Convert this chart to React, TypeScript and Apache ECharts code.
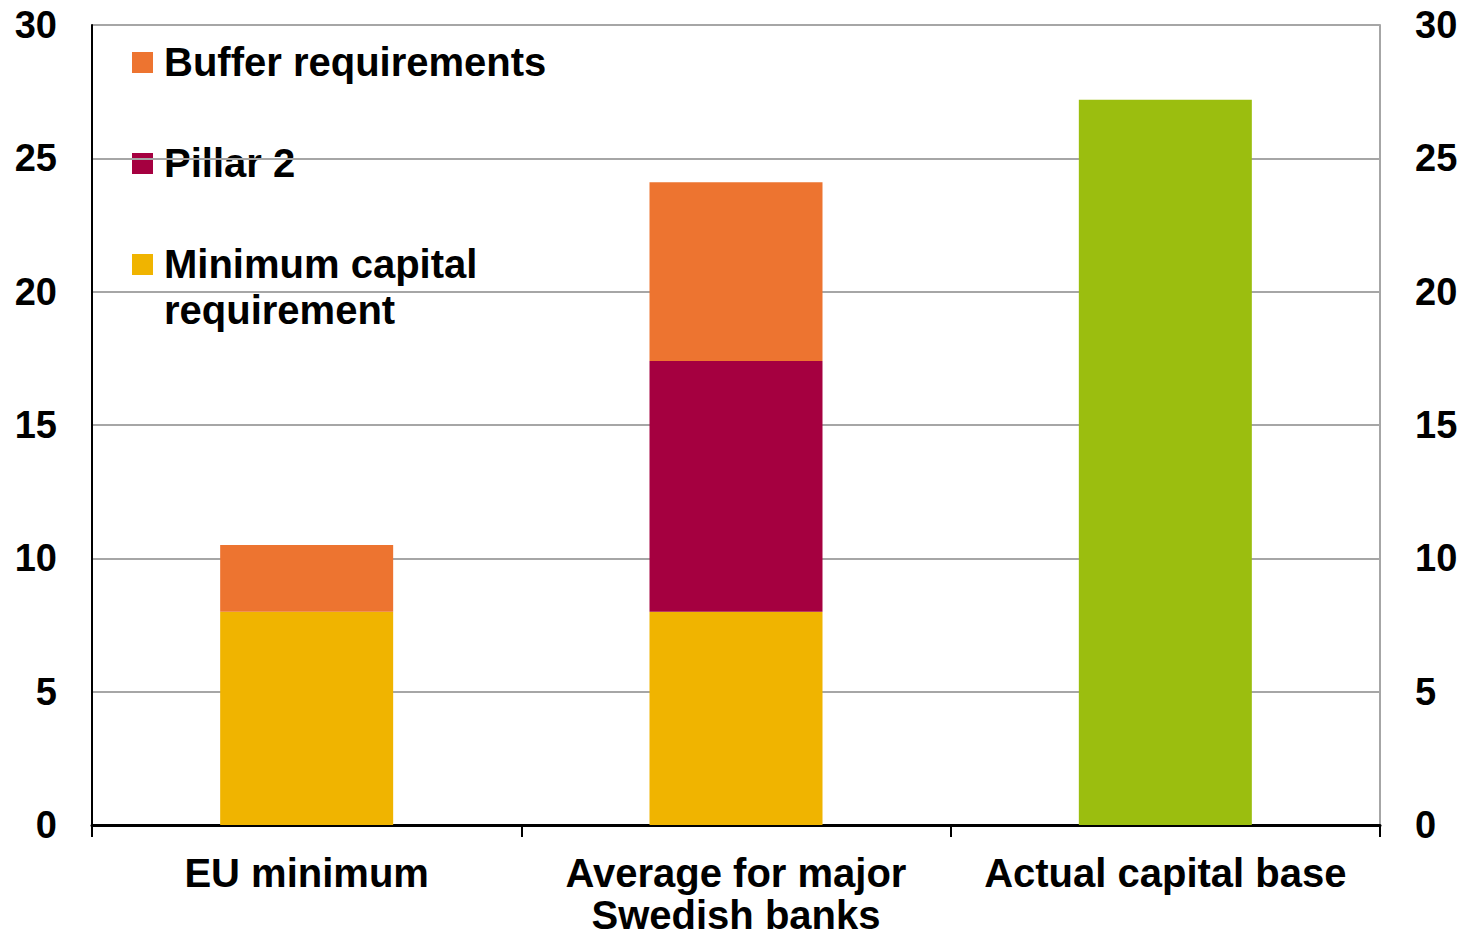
import React, { useEffect, useRef } from "react";
import * as echarts from "echarts";

const categories = ["EU minimum", "Average for major\nSwedish banks", "Actual capital base"];
const minimumCapital = [8, 8, null];
const pillar2 = [null, 9.4, null];
const bufferRequirements = [2.5, 6.7, null];
const actualCapitalBase = [null, null, 27.2];
const yMin = 0;
const yMax = 30;
const yInterval = 5;
const legendLabels = ["Buffer requirements", "Pillar 2", "Minimum capital\nrequirement"];
const legendColors = ["#ED7430", "#A50040", "#F0B400"];

const FONT = "'Liberation Sans', Arial, sans-serif";

export default function App() {
  const ref = useRef<HTMLDivElement>(null);
  useEffect(() => {
    if (!ref.current) return;
    const chart = echarts.init(ref.current, null, { renderer: "svg" });
    const legendGraphics: any[] = [];
    legendLabels.forEach((label, i) => {
      const cy = 62 + i * 101;
      legendGraphics.push({
        type: "rect",
        left: 132,
        top: cy - 10,
        shape: { width: 21, height: 21 },
        style: { fill: legendColors[i] },
      });
      legendGraphics.push({
        type: "text",
        left: 164,
        top: cy - 23,
        style: {
          text: label,
          fill: "#000",
          font: `bold 40px ${FONT}`,
          lineHeight: 46,
        },
      });
    });
    const common = { type: "bar", stack: "total", barWidth: 173 };
    chart.setOption({
      animation: false,
      grid: { left: 92, right: 86, top: 25, bottom: 112, containLabel: false, outerBoundsMode: "none" },
      xAxis: {
        type: "category",
        data: categories,
        boundaryGap: true,
        axisLine: { show: true, lineStyle: { color: "#000", width: 3 } },
        axisTick: { show: true, length: 12, lineStyle: { color: "#000", width: 2 } },
        axisLabel: {
          interval: 0,
          margin: 27,
          color: "#000",
          fontSize: 40,
          fontWeight: "bold",
          fontFamily: FONT,
          lineHeight: 42,
        },
      },
      yAxis: [
        {
          type: "value",
          min: yMin,
          max: yMax,
          interval: yInterval,
          position: "left",
          axisLine: { show: true, lineStyle: { color: "#000", width: 2 } },
          axisTick: { show: false },
          splitLine: { show: true, lineStyle: { color: "#A6A6A6", width: 2 } },
          axisLabel: { margin: 35, color: "#000", fontSize: 38, fontWeight: "bold", fontFamily: FONT },
        },
        {
          type: "value",
          min: yMin,
          max: yMax,
          interval: yInterval,
          position: "right",
          axisLine: { show: true, lineStyle: { color: "#A6A6A6", width: 2 } },
          axisTick: { show: false },
          splitLine: { show: false },
          axisLabel: { margin: 35, color: "#000", fontSize: 38, fontWeight: "bold", fontFamily: FONT },
        },
      ],
      series: [
        { ...common, name: "Minimum capital requirement", data: minimumCapital, itemStyle: { color: "#F0B400" } },
        { ...common, name: "Pillar 2", data: pillar2, itemStyle: { color: "#A50040" } },
        { ...common, name: "Buffer requirements", data: bufferRequirements, itemStyle: { color: "#ED7430" } },
        { ...common, name: "Actual capital base", data: actualCapitalBase, itemStyle: { color: "#9BBE0F" } },
      ],
      graphic: legendGraphics,
    });
    return () => chart.dispose();
  }, []);
  return (
    <div
      ref={ref}
      style={{ position: "absolute", left: 0, top: 0, width: 1466, height: 937, background: "#fff" }}
    />
  );
}
